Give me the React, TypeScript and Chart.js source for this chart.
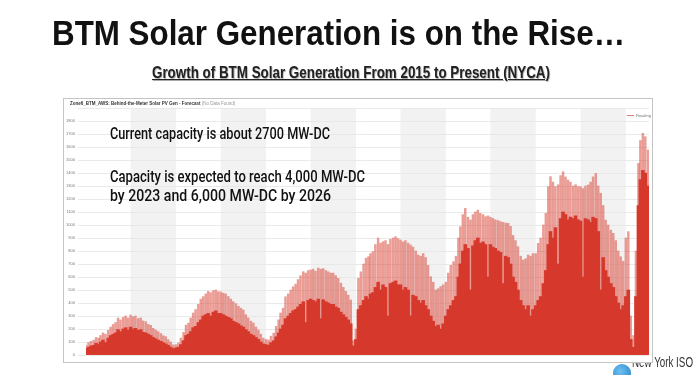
import React, { useEffect, useLayoutEffect, useRef } from "react";
import { Chart, registerables } from "chart.js";

Chart.register(...registerables);

const TITLE = "BTM Solar Generation is on the Rise…";
const SUBTITLE = "Growth of BTM Solar Generation From 2015 to Present (NYCA)";
const CHART_TITLE = "Zone6_BTM_AWS: Behind-the-Meter Solar PV Gen - Forecast";
const CHART_NOTE = "(No Data Found)";
const NOTE_1 = "Current capacity is about 2700 MW-DC";
const NOTE_2A = "Capacity is expected to reach 4,000 MW-DC";
const NOTE_2B = "by 2023 and 6,000 MW-DC by 2026";
const SERIES_NAME = "Reading";
const LOGO_TEXT = "New York ISO";

const MONTH_NAMES = ["January", "July"];
const TICK_YEARS = [2015, 2016, 2017, 2018, 2019, 2020, 2021];
const Y_MAX = 1900;
const Y_STEP = 100;
const Y_LABEL_MAX = 1800;

// Values per dekad (1st, 11th, 21st of each month), MW
const peak2015 = [75, 95, 105, 115, 135, 130, 150, 170, 160, 190, 215, 235, 250, 285, 270, 290, 300, 285, 308, 295, 300, 280, 285, 262, 256, 235, 228, 205, 192, 180, 165, 148, 141, 118, 100, 78];
const body2015 = [50, 60, 70, 75, 90, 80, 100, 115, 95, 130, 150, 160, 170, 195, 180, 200, 210, 190, 215, 200, 205, 190, 195, 175, 170, 160, 150, 135, 125, 115, 105, 95, 85, 75, 60, 50];

const peak2016 = [80, 92, 130, 175, 230, 245, 285, 323, 350, 390, 430, 449, 470, 490, 480, 495, 500, 487, 485, 476, 470, 450, 430, 410, 395, 375, 360, 346, 310, 285, 260, 246, 215, 192, 160, 130];
const body2016 = [55, 60, 80, 110, 150, 160, 180, 210, 220, 250, 270, 300, 310, 320, 300, 330, 340, 320, 320, 310, 300, 290, 280, 260, 250, 240, 225, 215, 195, 180, 160, 150, 135, 120, 100, 85];

const peak2017 = [120, 115, 145, 169, 220, 270, 323, 360, 448, 470, 500, 525, 545, 580, 610, 641, 630, 650, 654, 660, 645, 669, 660, 665, 650, 640, 630, 630, 610, 590, 553, 520, 490, 460, 423, 110];
const body2017 = [80, 75, 95, 110, 140, 170, 200, 230, 280, 300, 320, 340, 350, 370, 390, 410, 250, 420, 430, 420, 410, 430, 280, 425, 410, 400, 390, 390, 370, 360, 330, 310, 290, 270, 240, 70];

const peak2018 = [200, 590, 640, 700, 745, 756, 780, 795, 850, 900, 860, 872, 880, 850, 890, 900, 910, 895, 885, 870, 880, 860, 846, 830, 800, 769, 760, 780, 750, 690, 602, 560, 500, 510, 526, 540];
const body2018 = [120, 350, 380, 420, 450, 430, 470, 480, 520, 560, 500, 540, 520, 300, 550, 560, 570, 540, 540, 500, 520, 500, 300, 460, 450, 420, 400, 420, 380, 350, 300, 260, 220, 230, 200, 240];

const peak2019 = [560, 630, 690, 718, 760, 900, 987, 1080, 1128, 1060, 1038, 1080, 1100, 1115, 1090, 1080, 1064, 1070, 1060, 1051, 1040, 1035, 1026, 1020, 1015, 1013, 990, 920, 880, 833, 760, 731, 740, 769, 760, 780];
const body2019 = [300, 350, 380, 420, 450, 600, 700, 800, 850, 820, 500, 840, 880, 900, 860, 870, 850, 600, 850, 830, 820, 800, 790, 550, 760, 750, 700, 600, 560, 500, 420, 380, 350, 380, 300, 350];

const peak2020 = [780, 859, 900, 1000, 1090, 1295, 1372, 1330, 1295, 1310, 1380, 1410, 1370, 1346, 1330, 1300, 1310, 1295, 1295, 1280, 1300, 1308, 1330, 1370, 1397, 1300, 1244, 1150, 1038, 1000, 960, 936, 880, 800, 756, 720];
const body2020 = [380, 420, 450, 550, 650, 850, 950, 900, 980, 700, 1050, 1100, 1080, 1040, 1060, 1050, 1070, 1040, 1030, 600, 1050, 1040, 1020, 1060, 1050, 950, 500, 750, 650, 600, 550, 520, 450, 400, 350, 380];

const peak2021 = [900, 949, 300, 150, 800, 1474, 1650, 1705, 1679, 1577];
const body2021 = [450, 500, 120, 60, 450, 1150, 1350, 1420, 1400, 1300];

const PEAKS: [number, number[]][] = [
  [2015, peak2015], [2016, peak2016], [2017, peak2017], [2018, peak2018],
  [2019, peak2019], [2020, peak2020], [2021, peak2021],
];
const BODIES: [number, number[]][] = [
  [2015, body2015], [2016, body2016], [2017, body2017], [2018, body2018],
  [2019, body2019], [2020, body2020], [2021, body2021],
];

const DAY_MS = 86400000;
const ORIGIN = Date.UTC(2015, 0, 1);
const dayOf = (y: number, m: number, d: number) => (Date.UTC(y, m, d) - ORIGIN) / DAY_MS;
const dekadDay = (y: number, i: number) => dayOf(y, Math.floor(i / 3), 1 + 10 * (i % 3));

const toPoints = (list: [number, number[]][]) =>
  list.flatMap(([y, vals]) => vals.map((v, i) => ({ x: dekadDay(y, i), y: v })));

const RED = "#d6392c";
const RED_LIGHT = "rgba(214,57,44,0.5)";

const bandsPlugin = {
  id: "bands",
  beforeDraw(chart: any) {
    const { ctx, chartArea, scales } = chart;
    const xs = scales.x;
    ctx.save();
    ctx.fillStyle = "#f2f2f2";
    for (const y of TICK_YEARS) {
      const a = xs.getPixelForValue(dayOf(y, 6, 1));
      const b = xs.getPixelForValue(dayOf(y + 1, 0, 1));
      const l = Math.max(a, chartArea.left);
      const r = Math.min(b, chartArea.right);
      if (r > l) ctx.fillRect(l, chartArea.top, r - l, chartArea.bottom - chartArea.top);
    }
    ctx.restore();
  },
};

function FitText({ text, width, style }: { text: React.ReactNode; width: number; style: React.CSSProperties }) {
  const r = useRef<HTMLSpanElement>(null);
  useLayoutEffect(() => {
    const el = r.current;
    if (!el) return;
    el.style.transform = "none";
    const w = el.getBoundingClientRect().width;
    if (w > 0) el.style.transform = `scaleX(${width / w})`;
  }, [text, width]);
  return (
    <span ref={r} style={{ position: "absolute", whiteSpace: "nowrap", display: "inline-block", transformOrigin: "0 0", ...style }}>
      {text}
    </span>
  );
}

const ARIAL = "'Liberation Sans', Arial, sans-serif";
const HUMAN = "Roboto, Lato, 'Open Sans', 'Liberation Sans', sans-serif";

export default function App() {
  const ref = useRef<HTMLCanvasElement>(null);

  useEffect(() => {
    if (!ref.current) return;
    const peaks = toPoints(PEAKS);
    const bodies = toPoints(BODIES);
    const lastDay = peaks[peaks.length - 1].x + 4;
    const chart = new Chart(ref.current, {
      type: "bar",
      data: {
        datasets: [
          {
            label: SERIES_NAME,
            data: bodies,
            backgroundColor: RED,
            barThickness: 2.9,
            grouped: false,
            order: 1,
          } as any,
          {
            label: SERIES_NAME + " peak",
            data: peaks,
            backgroundColor: RED_LIGHT,
            barThickness: 1.8,
            grouped: false,
            order: 2,
          } as any,
        ],
      },
      options: {
        animation: false,
        responsive: false,
        maintainAspectRatio: false,
        layout: { padding: { left: 0, right: 3, top: 9, bottom: 0 } },
        plugins: { legend: { display: false }, tooltip: { enabled: false }, title: { display: false } },
        scales: {
          x: {
            type: "linear",
            min: 0,
            max: lastDay,
            offset: false,
            grid: { display: false },
            border: { display: false },
            afterBuildTicks: (axis: any) => {
              const t: any[] = [];
              for (const y of TICK_YEARS) {
                for (const m of [0, 6]) {
                  const v = dayOf(y, m, 1);
                  if (v <= lastDay) t.push({ value: v });
                }
              }
              axis.ticks = t;
            },
            afterFit: (s: any) => { s.height = 7; },
            ticks: {
              autoSkip: false,
              maxRotation: 0,
              padding: 1,
              color: "#777",
              font: { size: 4, family: ARIAL },
              callback: (v: any) => {
                const d = new Date(ORIGIN + Number(v) * DAY_MS);
                return `${MONTH_NAMES[d.getUTCMonth() === 0 ? 0 : 1]} ${d.getUTCFullYear()}`;
              },
            },
          } as any,
          y: {
            min: 0,
            max: Y_MAX,
            grid: { color: "#e4e4e4", lineWidth: 0.8 },
            border: { display: false },
            afterFit: (s: any) => { s.width = 22; },
            ticks: {
              stepSize: Y_STEP,
              padding: 3,
              color: "#777",
              font: { size: 4, family: ARIAL },
              callback: (v: any) => (Number(v) > Y_LABEL_MAX ? "" : String(v)),
            },
          },
        },
      },
      plugins: [bandsPlugin],
    });
    return () => chart.destroy();
  }, []);

  return (
    <div style={{ position: "absolute", left: 0, top: 0, width: 700, height: 375, overflow: "hidden", background: "#fff" }}>
      <FitText text={TITLE} width={573} style={{ left: 52, top: 15, fontFamily: ARIAL, fontWeight: 700, fontSize: 35, lineHeight: "35px", color: "#111" }} />
      <FitText
        text={SUBTITLE}
        width={398}
        style={{ left: 152, top: 64, fontFamily: ARIAL, fontWeight: 700, fontSize: 17, lineHeight: "17px", color: "#222", textDecoration: "underline", textShadow: "1px 1px 1px #aaa" }}
      />

      {/* logo behind the chart frame */}
      <div style={{ position: "absolute", left: 613, top: 364, width: 18, height: 18, borderRadius: "50%", background: "radial-gradient(circle at 40% 40%, #6fc0ef, #1f7fc9)" }} />
      <FitText text={LOGO_TEXT} width={61} style={{ left: 632, top: 355, fontFamily: ARIAL, fontSize: 14, lineHeight: "14px", color: "#333" }} />

      <div style={{ position: "absolute", left: 63, top: 98, width: 588, height: 263, border: "1px solid #c4c4c4", background: "#fff" }}>
        <canvas ref={ref} width={588} height={263} style={{ display: "block", width: 588, height: 263 }} />
        <div style={{ position: "absolute", left: 6, top: 2, fontFamily: ARIAL, fontSize: 4.5, color: "#333", whiteSpace: "nowrap", lineHeight: "6px" }}>
          <b>{CHART_TITLE}</b> <span style={{ color: "#999" }}>{CHART_NOTE}</span>
        </div>
        <div style={{ position: "absolute", left: 563, top: 14, display: "flex", alignItems: "center", fontFamily: ARIAL, fontSize: 4, color: "#777", whiteSpace: "nowrap", lineHeight: "5px" }}>
          <span style={{ display: "inline-block", width: 7, height: 1, background: "#e07a72", marginRight: 2 }} />
          {SERIES_NAME}
        </div>
      </div>

      <FitText text={NOTE_1} width={220} style={{ left: 110, top: 125, fontFamily: HUMAN, fontWeight: 500, fontSize: 16.5, lineHeight: "17px", color: "#111" }} />
      <FitText text={NOTE_2A} width={255} style={{ left: 110, top: 168, fontFamily: HUMAN, fontWeight: 500, fontSize: 16.5, lineHeight: "17px", color: "#111" }} />
      <FitText text={NOTE_2B} width={221} style={{ left: 110, top: 187, fontFamily: HUMAN, fontWeight: 500, fontSize: 16.5, lineHeight: "17px", color: "#111" }} />
    </div>
  );
}
